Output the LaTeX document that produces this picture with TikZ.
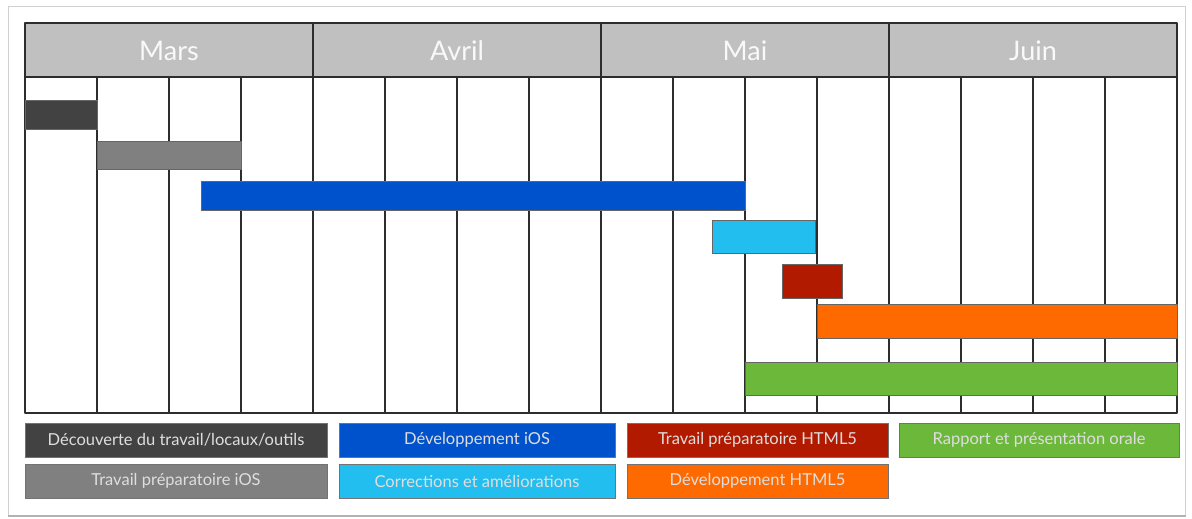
\documentclass[tikz,border=0pt]{standalone}
\usepackage{fontspec}
\setmainfont{Lato}
\definecolor{cdark}{RGB}{66,66,66}
\definecolor{cgray}{RGB}{128,128,128}
\definecolor{cblue}{RGB}{0,82,204}
\definecolor{ccyan}{RGB}{34,190,240}
\definecolor{cred}{RGB}{178,26,0}
\definecolor{corange}{RGB}{255,106,0}
\definecolor{cgreen}{RGB}{108,184,58}
\definecolor{chead}{RGB}{192,192,192}
\definecolor{cline}{RGB}{45,45,45}
\definecolor{ctext}{RGB}{222,222,222}
\begin{document}
\begin{tikzpicture}[x=1pt,y=-1pt,
  gridline/.style={draw=cline,line width=2.2pt},
  bar/.style={draw=black!60,line width=0.8pt,anchor=north west,inner sep=0pt,outer sep=0pt},
  legbox/.style={draw=black!55,line width=1pt,anchor=north west,inner sep=0pt,outer sep=0pt,minimum height=34pt,
    font=\fontsize{16.5}{18}\selectfont,text=ctext},
  month/.style={font=\fontsize{27}{30}\selectfont,text=white!95!gray,inner sep=0pt}]
\useasboundingbox (0,0) rectangle (1192,519);
% outer frame
\draw[draw=black!18,line width=1pt] (8,7) rectangle (1185,515);
\draw[draw=black!30,line width=2pt] (8,516) -- (1186,516);
% header
\fill[chead] (25,23) rectangle (1177,77);
\foreach \m/\x in {Mars/169,Avril/457,Mai/745,Juin/1033}{
  \node[month] (m\m) at (\x,51) {\m};
}
% body
\fill[white] (25,77) rectangle (1177,413);
\foreach \x in {97,169,241,385,457,529,673,745,817,961,1033,1105}{
  \draw[gridline] (\x,77) -- (\x,413);
}
\foreach \x in {313,601,889}{
  \draw[gridline] (\x,23) -- (\x,413);
}
\draw[gridline] (25,77) -- (1177,77);
\draw[gridline,line join=round] (25,23) rectangle (1177,413);
% bars
\node[bar,fill=cdark,minimum width=72pt,minimum height=29pt] (b1) at (25,100) {};
\node[bar,fill=cgray,minimum width=144pt,minimum height=28pt] (b2) at (97,141) {};
\node[bar,fill=cblue,minimum width=544pt,minimum height=29pt] (b3) at (201,181) {};
\node[bar,fill=ccyan,minimum width=103pt,minimum height=33pt] (b4) at (712,220) {};
\node[bar,fill=cred,minimum width=60pt,minimum height=34pt] (b5) at (782,264) {};
\node[bar,fill=corange,minimum width=360pt,minimum height=34pt] (b6) at (817,304) {};
\node[bar,fill=cgreen,minimum width=432pt,minimum height=33pt] (b7) at (745,362) {};
% legend
\node[legbox,fill=cdark,minimum width=302pt] (l1) at (25,423) {Découverte du travail/locaux/outils};
\node[legbox,fill=cgray,minimum width=302pt] (l2) at (25,464) {Travail préparatoire iOS};
\node[legbox,fill=cblue,minimum width=276pt] (l3) at (339,423) {Développement iOS};
\node[legbox,fill=ccyan,minimum width=276pt] (l4) at (339,464) {Corrections et améliorations};
\node[legbox,fill=cred,minimum width=261pt] (l5) at (627,423) {Travail préparatoire HTML5};
\node[legbox,fill=corange,minimum width=261pt] (l6) at (627,464) {Développement HTML5};
\node[legbox,fill=cgreen,minimum width=280pt] (l7) at (899,423) {Rapport et présentation orale};
\end{tikzpicture}
\end{document}
